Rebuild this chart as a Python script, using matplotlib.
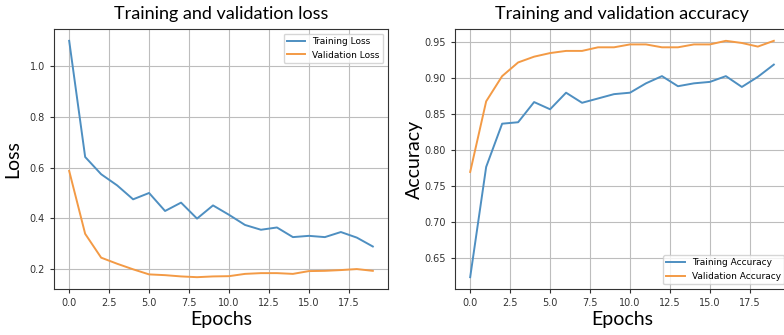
import matplotlib
matplotlib.use("Agg")
import matplotlib.pyplot as plt

epochs = list(range(20))
train_loss = [1.10, 0.642, 0.574, 0.530, 0.475, 0.500, 0.429, 0.462, 0.399, 0.451,
              0.414, 0.374, 0.355, 0.364, 0.326, 0.331, 0.326, 0.346, 0.324, 0.289]
val_loss = [0.587, 0.339, 0.245, 0.221, 0.199, 0.179, 0.176, 0.171, 0.168, 0.171,
            0.172, 0.181, 0.184, 0.184, 0.181, 0.192, 0.193, 0.196, 0.200, 0.193]
train_acc = [0.624, 0.777, 0.837, 0.839, 0.867, 0.857, 0.880, 0.866, 0.872, 0.878,
             0.880, 0.893, 0.903, 0.889, 0.893, 0.895, 0.903, 0.888, 0.902, 0.919]
val_acc = [0.770, 0.868, 0.903, 0.922, 0.930, 0.935, 0.938, 0.938, 0.943, 0.943,
           0.947, 0.947, 0.943, 0.943, 0.947, 0.947, 0.952, 0.949, 0.944, 0.952]

W, H = 784, 335
fig = plt.figure(figsize=(W / 100, H / 100), dpi=100)

title_font = dict(family="Lato", size=13)
label_font = dict(family="Lato", size=14)

BLUE = "#4e8fc1"
ORANGE = "#f39a45"

def setup(ax, title, ylabel, ylx):
    ax.grid(True, color="#bdbdbd", linewidth=0.8)
    ax.tick_params(labelsize=7, colors="#333333", length=3)
    ax.set_title(title, fontdict=title_font, pad=7)
    ax.set_xlabel("Epochs", fontdict=label_font)
    ax.set_ylabel(ylabel, fontdict=label_font)
    ax.xaxis.set_label_coords(0.5, -0.085)
    ax.yaxis.set_label_coords(ylx, 0.5)
    for s in ax.spines.values():
        s.set_color("#333333")

ax1 = fig.add_axes([54 / W, 46 / H, 334 / W, 260 / H])
ax1.plot(epochs, train_loss, color=BLUE, lw=1.4, label="Training Loss")
ax1.plot(epochs, val_loss, color=ORANGE, lw=1.4, label="Validation Loss")
setup(ax1, "Training and validation loss", "Loss", -0.097)
ax1.set_yticks([0.2, 0.4, 0.6, 0.8, 1.0])
ax1.legend(loc="upper right", fontsize=6.5)

ax2 = fig.add_axes([455 / W, 46 / H, 334 / W, 260 / H])
ax2.plot(epochs, train_acc, color=BLUE, lw=1.4, label="Training Accuracy")
ax2.plot(epochs, val_acc, color=ORANGE, lw=1.4, label="Validation Accuracy")
setup(ax2, "Training and validation accuracy", "Accuracy", -0.097)
ax2.set_yticks([0.65, 0.70, 0.75, 0.80, 0.85, 0.90, 0.95])
ax2.legend(loc="lower right", fontsize=6.5)

fig.savefig("out.png", dpi=100)
